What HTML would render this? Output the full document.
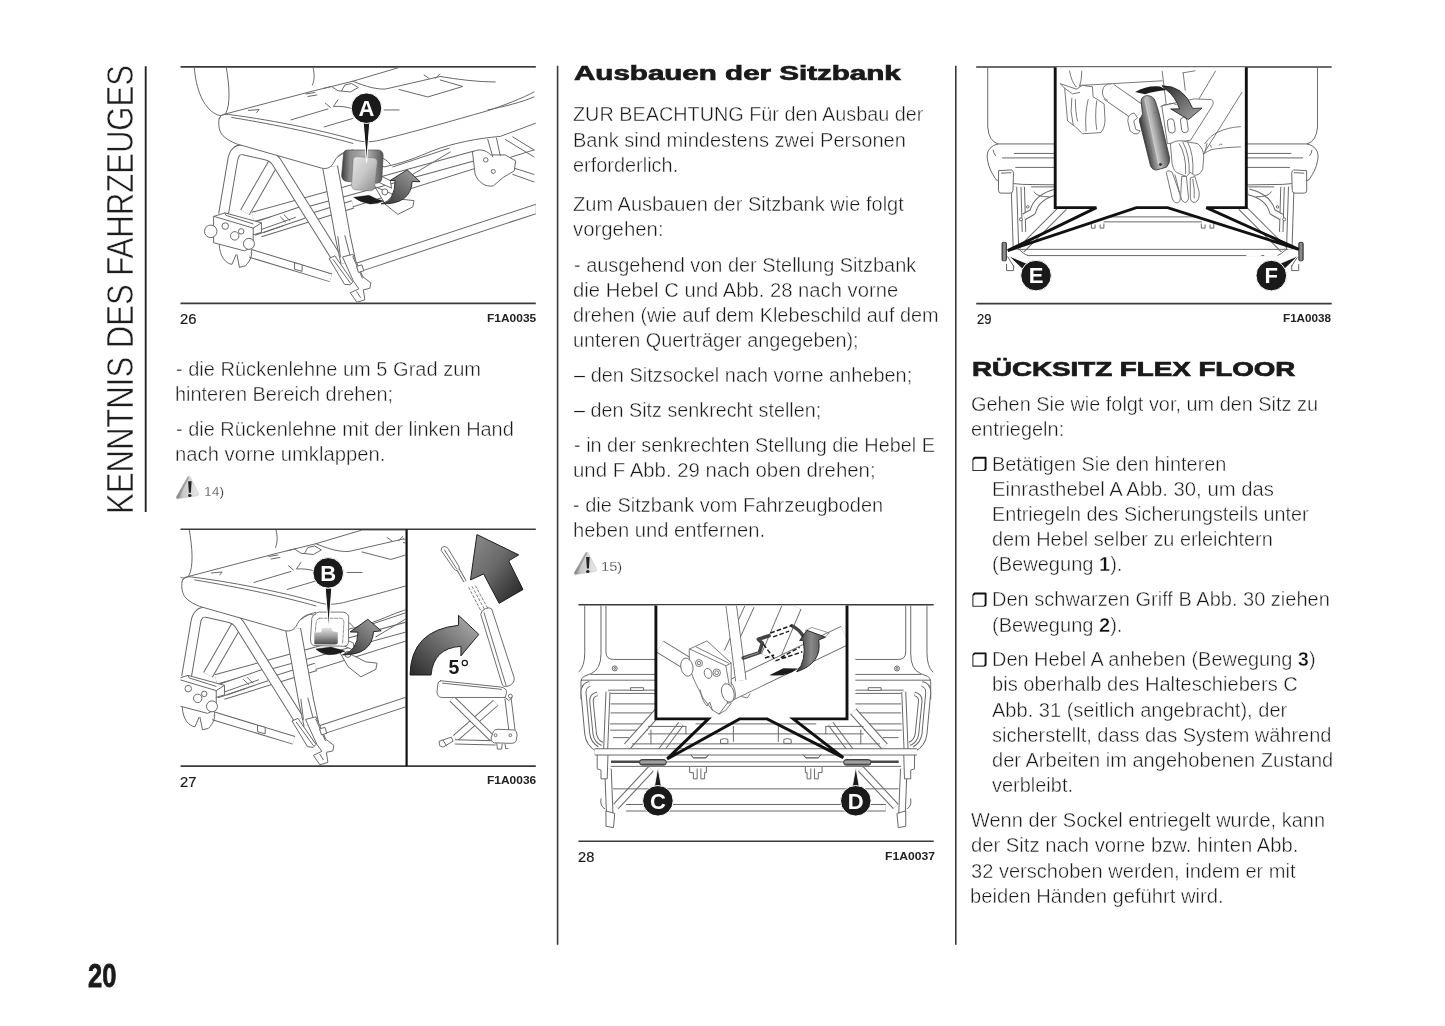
<!DOCTYPE html>
<html lang="de"><head><meta charset="utf-8"><title>Kenntnis des Fahrzeuges</title>
<style>
html,body{margin:0;padding:0;background:#fff;}
body{width:1445px;height:1026px;overflow:hidden;font-family:"Liberation Sans",sans-serif;}
#pg{will-change:transform;position:relative;width:1445px;height:1026px;background:#fff;overflow:hidden;}
#pg svg{position:absolute;left:0;top:0;}
.t{position:absolute;white-space:nowrap;line-height:1;transform-origin:0 50%;font-family:"Liberation Sans",sans-serif;}
.t b{font-weight:bold;color:#111;}
.vt{position:absolute;white-space:nowrap;line-height:1;font-family:"Liberation Sans",sans-serif;}
#side{position:absolute;left:133.3px;top:514.2px;width:0;height:0;transform-origin:0 0;transform:rotate(-90deg);}
.t.b{font-size:20.0px;color:#1a1a1a;-webkit-text-stroke:0.42px #fff;}
.t.h{font-size:20.0px;font-weight:bold;color:#1a1a1a;-webkit-text-stroke:0.7px #1a1a1a;}
.t.s{font-size:13.6px;color:#222;-webkit-text-stroke:0.3px #fff;}
.t.n{font-size:14.5px;color:#1a1a1a;-webkit-text-stroke:0.2px #1a1a1a;}
.t.c{font-size:11.2px;font-weight:bold;color:#222;}
.t.v{font-size:37.0px;color:#1e1e1e;-webkit-text-stroke:0.55px #fff;}
.t.p{font-size:34.0px;font-weight:bold;color:#1a1a1a;-webkit-text-stroke:0.8px #1a1a1a;}
</style></head>
<body>
<div id="pg">
<svg width="1445" height="1026" viewBox="0 0 1445 1026">
<g stroke="#3a3a3a" stroke-width="1.6" fill="none">
<line x1="557.6" y1="65.8" x2="557.6" y2="944.8"/>
<line x1="955.8" y1="65.8" x2="955.8" y2="944.8"/>
<line x1="145.7" y1="66.3" x2="145.7" y2="511.9" stroke="#262626" stroke-width="1.9"/>
<line x1="180.5" y1="66.9" x2="535.8" y2="66.9"/>
<line x1="180.5" y1="303.4" x2="535.8" y2="303.4"/>
<line x1="180.5" y1="529.2" x2="535.8" y2="529.2"/>
<line x1="180.5" y1="766.1" x2="535.8" y2="766.1"/>
<line x1="578.4" y1="604.8" x2="933.7" y2="604.8"/>
<line x1="578.4" y1="841.3" x2="933.7" y2="841.3"/>
<line x1="976.2" y1="67" x2="1331.7" y2="67"/>
<line x1="976.2" y1="303.6" x2="1331.7" y2="303.6"/>
</g>
</svg>
<svg width="1445" height="1026" viewBox="0 0 1445 1026">
<defs>
<linearGradient id="gH1" x1="0" y1="0" x2="1" y2="0"><stop offset="0" stop-color="#3c3c3c"/><stop offset="0.2" stop-color="#8c8c8c"/><stop offset="0.6" stop-color="#b4b4b4"/><stop offset="1" stop-color="#555"/></linearGradient>
  <linearGradient id="gH2" x1="0" y1="0" x2="1" y2="1"><stop offset="0" stop-color="#e6e6e6"/><stop offset="0.5" stop-color="#c6c6c6"/><stop offset="1" stop-color="#8a8a8a"/></linearGradient>
  <linearGradient id="gAr" x1="0" y1="1" x2="1" y2="0"><stop offset="0" stop-color="#333"/><stop offset="0.55" stop-color="#737373"/><stop offset="1" stop-color="#a6a6a6"/></linearGradient>
  <clipPath id="c26"><rect x="180.5" y="67.6" width="355.3" height="235"/></clipPath>
  </defs>
<g clip-path="url(#c26)">
<g transform="translate(178,57) scale(0.24980)">
<path d="M65,40 C72,130 100,200 150,228 C168,237 182,236 190,228 C212,190 205,110 193,40" fill="none" stroke="#686868" stroke-width="4.00" stroke-linecap="round" stroke-linejoin="round" />
<path d="M540,40 C548,70 546,95 538,112" fill="none" stroke="#686868" stroke-width="4.00" stroke-linecap="round" stroke-linejoin="round" />
<path d="M300,640 L1190,395" fill="none" stroke="#686868" stroke-width="42.00" stroke-linecap="butt" stroke-linejoin="round"/><path d="M300,640 L1190,395" fill="none" stroke="#fff" stroke-width="34.00" stroke-linecap="butt" stroke-linejoin="round"/>
<path d="M330,705 L700,590" fill="none" stroke="#686868" stroke-width="34.00" stroke-linecap="butt" stroke-linejoin="round"/><path d="M330,705 L700,590" fill="none" stroke="#fff" stroke-width="26.00" stroke-linecap="butt" stroke-linejoin="round"/>
<path d="M700,600 L1425,372" fill="none" stroke="#686868" stroke-width="4.00" stroke-linecap="round" stroke-linejoin="round" />
<path d="M1330,440 L1425,470 M1340,470 L1425,500" fill="none" stroke="#686868" stroke-width="4.00" stroke-linecap="round" stroke-linejoin="round" />
<path d="M722,842 L1440,606" fill="none" stroke="#686868" stroke-width="40.00" stroke-linecap="butt" stroke-linejoin="round"/><path d="M722,842 L1440,606" fill="none" stroke="#fff" stroke-width="32.00" stroke-linecap="butt" stroke-linejoin="round"/>
<path d="M290,786 L612,884" fill="none" stroke="#686868" stroke-width="36.00" stroke-linecap="butt" stroke-linejoin="round"/><path d="M290,786 L612,884" fill="none" stroke="#fff" stroke-width="28.00" stroke-linecap="butt" stroke-linejoin="round"/>
<path d="M468,824 L497,832 L497,858 L468,850 Z" fill="#fff" stroke="#686868" stroke-width="4.00" stroke-linecap="round" stroke-linejoin="round" />
<path d="M300,690 L500,622" fill="none" stroke="#686868" stroke-width="54.00" stroke-linecap="butt" stroke-linejoin="round"/><path d="M300,690 L500,622" fill="none" stroke="#fff" stroke-width="46.00" stroke-linecap="butt" stroke-linejoin="round"/>
<path d="M335,690 L470,642 M345,702 L420,676 M410,640 L430,660 M425,632 L448,655" fill="none" stroke="#686868" stroke-width="4.00" stroke-linecap="round" stroke-linejoin="round" />
<path d="M385,418 L268,622" fill="none" stroke="#686868" stroke-width="44.00" stroke-linecap="butt" stroke-linejoin="round"/><path d="M385,418 L268,622" fill="none" stroke="#fff" stroke-width="36.00" stroke-linecap="butt" stroke-linejoin="round"/>
<path d="M182,630 L219,412 Q226,366 264,372 L352,392 Q380,398 394,420 L632,800" fill="none" stroke="#686868" stroke-width="43.00" stroke-linecap="butt" stroke-linejoin="round"/><path d="M182,630 L219,412 Q226,366 264,372 L352,392 Q380,398 394,420 L632,800" fill="none" stroke="#fff" stroke-width="35.00" stroke-linecap="butt" stroke-linejoin="round"/>
<path d="M609,440 L660,720 L682,822" fill="none" stroke="#686868" stroke-width="64.00" stroke-linecap="butt" stroke-linejoin="round"/><path d="M609,440 L660,720 L682,822" fill="none" stroke="#fff" stroke-width="56.00" stroke-linecap="butt" stroke-linejoin="round"/>
<path d="M640,720 L650,800 M668,715 L690,800" fill="none" stroke="#686868" stroke-width="4.00" stroke-linecap="round" stroke-linejoin="round" />
<path d="M144,638 L188,624 L334,664 L334,702 L301,712 L301,760 L266,776 L144,744 Z" fill="#fff" stroke="#686868" stroke-width="4.00" stroke-linecap="round" stroke-linejoin="round" />
<path d="M144,638 L301,685 L301,712 M301,685 L334,664 M188,624 L192,634 L300,668" fill="none" stroke="#686868" stroke-width="4.00" stroke-linecap="round" stroke-linejoin="round" />
<circle cx="131" cy="698" r="25" fill="#fff" stroke="#686868" stroke-width="4.00"/>
<circle cx="189" cy="677" r="13" fill="#fff" stroke="#686868" stroke-width="4.00"/>
<circle cx="227" cy="716" r="17" fill="#fff" stroke="#686868" stroke-width="4.00"/>
<circle cx="253" cy="698" r="11" fill="#fff" stroke="#686868" stroke-width="4.00"/>
<circle cx="284" cy="748" r="22" fill="#fff" stroke="#686868" stroke-width="4.00"/>
<path d="M165,752 C168,800 190,826 216,830 L232,792 M236,792 L246,842 L270,836 C290,815 298,795 294,772" fill="none" stroke="#686868" stroke-width="4.00" stroke-linecap="round" stroke-linejoin="round" />
<path d="M606,806 L628,796 L700,900 L690,912 L668,910 Z" fill="#fff" stroke="#686868" stroke-width="4.00" stroke-linecap="round" stroke-linejoin="round" />
<path d="M622,812 L690,905" fill="none" stroke="#686868" stroke-width="4.00" stroke-linecap="round" stroke-linejoin="round" />
<path d="M660,800 L700,790 L740,880 L772,904 L768,926 L742,932 L748,972 L716,982 L690,944 L724,928 L704,900 Z" fill="#fff" stroke="#686868" stroke-width="4.00" stroke-linecap="round" stroke-linejoin="round" />
<path d="M700,800 L738,885 M716,940 L730,962" fill="none" stroke="#686868" stroke-width="4.00" stroke-linecap="round" stroke-linejoin="round" />
<path d="M716,838 L736,832 L744,856 L724,862 Z" fill="#fff" stroke="#686868" stroke-width="4.00" stroke-linecap="round" stroke-linejoin="round" />
<path d="M860,440 L1085,365 M940,470 L1090,380" fill="none" stroke="#686868" stroke-width="4.00" stroke-linecap="round" stroke-linejoin="round" />
<path d="M1180,380 C1200,366 1232,370 1252,392 L1310,392 L1352,416 L1346,456 L1302,482 L1262,516 C1230,522 1200,500 1190,470 Z" fill="#fff" stroke="#686868" stroke-width="4.00" stroke-linecap="round" stroke-linejoin="round" />
<path d="M1240,330 L1260,400 M1275,325 L1290,395 M1310,330 L1425,400 M1340,320 L1425,372" fill="none" stroke="#686868" stroke-width="4.00" stroke-linecap="round" stroke-linejoin="round" />
<circle cx="1232" cy="412" r="9" fill="#fff" stroke="#686868" stroke-width="4.00"/>
<circle cx="1262" cy="458" r="8" fill="#fff" stroke="#686868" stroke-width="4.00"/>
<path d="M790,520 L850,545 L900,570 L945,575 L940,600 L880,630 L830,590 Z" fill="#fff" stroke="#686868" stroke-width="4.00" stroke-linecap="round" stroke-linejoin="round" />
<path d="M800,470 L850,495 L855,525 L800,500 Z" fill="#fff" stroke="#686868" stroke-width="4.00" stroke-linecap="round" stroke-linejoin="round" />
<circle cx="828" cy="540" r="12" fill="#fff" stroke="#686868" stroke-width="4.00"/>
<path d="M190,228 L545,135 L700,97 L885,42 L1440,42 L1440,262 L1290,318 C1200,325 1100,345 1020,375 C960,400 900,425 825,440 L678,378 C650,385 635,400 625,420 C615,440 600,450 575,445 L235,348 C215,340 195,330 180,315 C165,300 160,270 165,246 C170,232 182,229 190,228 Z" fill="#fff" stroke="#686868" stroke-width="4.00" stroke-linecap="round" stroke-linejoin="round" />
<path d="M165,246 C170,232 185,228 202,230 C400,255 600,300 720,335 C760,345 800,336 840,325 C960,295 1100,255 1240,215 C1300,195 1380,165 1425,140" fill="none" stroke="#686868" stroke-width="4.00" stroke-linecap="round" stroke-linejoin="round" />
<path d="M215,242 C400,272 580,312 700,346" fill="none" stroke="#686868" stroke-width="4.00" stroke-linecap="round" stroke-linejoin="round" />
<path d="M700,97 C760,122 800,130 832,128 L1050,78 M1050,78 C1120,90 1200,100 1270,100 M1240,212 C1300,200 1380,180 1425,160" fill="none" stroke="#686868" stroke-width="4.00" stroke-linecap="round" stroke-linejoin="round" />
<path d="M885,130 L1000,160 L1140,118 L1050,92" fill="none" stroke="#686868" stroke-width="4.00" stroke-linecap="round" stroke-linejoin="round" />
<path d="M985,72 L1005,86 M1030,86 L1048,68" fill="none" stroke="#686868" stroke-width="4.00" stroke-linecap="round" stroke-linejoin="round" />
<path d="M585,125 L615,118 L640,135 L690,140 L722,122 L695,106 L668,112 L655,135" fill="none" stroke="#686868" stroke-width="4.00" stroke-linecap="round" stroke-linejoin="round" />
<path d="M452,252 L600,208 M585,280 L700,246 M825,212 L885,212" fill="none" stroke="#686868" stroke-width="4.00" stroke-linecap="round" stroke-linejoin="round" />
<path d="M590,185 L610,202 M640,172 L622,198 C650,196 680,200 700,208" fill="none" stroke="#686868" stroke-width="4.00" stroke-linecap="round" stroke-linejoin="round" />
<path d="M512,148 L548,142 M520,158 L556,152 M282,214 L325,210 L315,222" fill="none" stroke="#686868" stroke-width="4.00" stroke-linecap="round" stroke-linejoin="round" />
<path d="M760,390 C790,395 830,400 850,430 M640,400 C660,385 680,376 700,372" fill="none" stroke="#686868" stroke-width="4.00" stroke-linecap="round" stroke-linejoin="round" />
</g>
<g transform="translate(320,140) scale(0.08306)">
<path d="M300,130 Q310,120 340,120 L700,120 Q760,125 760,190 L745,470 Q740,510 690,520 L330,500 Q262,490 260,430 L280,200 Q285,140 300,130 Z" fill="url(#gH1)" stroke="#3c3c3c" stroke-width="7"/>
  <path d="M400,230 Q410,200 450,200 L640,215 Q690,220 690,270 L660,560 Q655,610 600,612 L430,600 Q380,595 380,540 Z" fill="url(#gH2)" stroke="#6e6e6e" stroke-width="6"/>
  <path d="M405,690 L590,665 Q680,715 765,735 Q690,775 600,770 Q480,750 405,690 Z" fill="#1c1c1c" stroke="#111" stroke-width="4"/>
  <path d="M735,768 Q900,740 905,490 L845,487 L1050,360 L1205,502 L1110,500 Q1090,780 735,768 Z" fill="url(#gAr)" stroke="#222" stroke-width="11" stroke-linejoin="miter"/>
  </g>
<path d="M363.2,122 L369.8,122 L366.6,162.5 Z" fill="#1a1a1a" stroke="#fff" stroke-width="1"/>
<circle cx="366.5" cy="108.2" r="15.3" fill="#1a1a1a" stroke="#fff" stroke-width="1"/><text x="366.5" y="116.0" font-family="Liberation Sans, sans-serif" font-weight="bold" font-size="22" fill="#fff" text-anchor="middle">A</text>
</g>
</svg>
<svg width="1445" height="1026" viewBox="0 0 1445 1026">
<defs>
<linearGradient id="gB1" x1="0" y1="0" x2="0" y2="1"><stop offset="0" stop-color="#e4e4e4"/><stop offset="0.45" stop-color="#a8a8a8"/><stop offset="1" stop-color="#4a4a4a"/></linearGradient>
<linearGradient id="gB2" x1="0" y1="1" x2="1" y2="0"><stop offset="0" stop-color="#333"/><stop offset="0.55" stop-color="#737373"/><stop offset="1" stop-color="#a6a6a6"/></linearGradient>
<linearGradient id="gUp" x1="0" y1="0" x2="1" y2="1"><stop offset="0" stop-color="#8c8c8c"/><stop offset="0.45" stop-color="#6a6a6a"/><stop offset="1" stop-color="#1e1e1e"/></linearGradient>
<linearGradient id="gCv" x1="0" y1="1" x2="1" y2="0"><stop offset="0" stop-color="#2a2a2a"/><stop offset="0.5" stop-color="#6e6e6e"/><stop offset="1" stop-color="#b4b4b4"/></linearGradient>
<clipPath id="c27a"><rect x="180.5" y="529.9" width="225" height="235.4"/></clipPath>
<clipPath id="c27b"><rect x="407" y="529.9" width="128.8" height="235.4"/></clipPath>
</defs>
<g clip-path="url(#c27a)">
<g transform="translate(141.02960000000002,519.4996) scale(0.24980)">
<path d="M65,40 C72,130 100,200 150,228 C168,237 182,236 190,228 C212,190 205,110 193,40" fill="none" stroke="#686868" stroke-width="4.00" stroke-linecap="round" stroke-linejoin="round" />
<path d="M540,40 C548,70 546,95 538,112" fill="none" stroke="#686868" stroke-width="4.00" stroke-linecap="round" stroke-linejoin="round" />
<path d="M300,640 L1190,395" fill="none" stroke="#686868" stroke-width="42.00" stroke-linecap="butt" stroke-linejoin="round"/><path d="M300,640 L1190,395" fill="none" stroke="#fff" stroke-width="34.00" stroke-linecap="butt" stroke-linejoin="round"/>
<path d="M330,705 L700,590" fill="none" stroke="#686868" stroke-width="34.00" stroke-linecap="butt" stroke-linejoin="round"/><path d="M330,705 L700,590" fill="none" stroke="#fff" stroke-width="26.00" stroke-linecap="butt" stroke-linejoin="round"/>
<path d="M700,600 L1425,372" fill="none" stroke="#686868" stroke-width="4.00" stroke-linecap="round" stroke-linejoin="round" />
<path d="M1330,440 L1425,470 M1340,470 L1425,500" fill="none" stroke="#686868" stroke-width="4.00" stroke-linecap="round" stroke-linejoin="round" />
<path d="M722,842 L1440,606" fill="none" stroke="#686868" stroke-width="40.00" stroke-linecap="butt" stroke-linejoin="round"/><path d="M722,842 L1440,606" fill="none" stroke="#fff" stroke-width="32.00" stroke-linecap="butt" stroke-linejoin="round"/>
<path d="M290,786 L612,884" fill="none" stroke="#686868" stroke-width="36.00" stroke-linecap="butt" stroke-linejoin="round"/><path d="M290,786 L612,884" fill="none" stroke="#fff" stroke-width="28.00" stroke-linecap="butt" stroke-linejoin="round"/>
<path d="M468,824 L497,832 L497,858 L468,850 Z" fill="#fff" stroke="#686868" stroke-width="4.00" stroke-linecap="round" stroke-linejoin="round" />
<path d="M300,690 L500,622" fill="none" stroke="#686868" stroke-width="54.00" stroke-linecap="butt" stroke-linejoin="round"/><path d="M300,690 L500,622" fill="none" stroke="#fff" stroke-width="46.00" stroke-linecap="butt" stroke-linejoin="round"/>
<path d="M335,690 L470,642 M345,702 L420,676 M410,640 L430,660 M425,632 L448,655" fill="none" stroke="#686868" stroke-width="4.00" stroke-linecap="round" stroke-linejoin="round" />
<path d="M385,418 L268,622" fill="none" stroke="#686868" stroke-width="44.00" stroke-linecap="butt" stroke-linejoin="round"/><path d="M385,418 L268,622" fill="none" stroke="#fff" stroke-width="36.00" stroke-linecap="butt" stroke-linejoin="round"/>
<path d="M182,630 L219,412 Q226,366 264,372 L352,392 Q380,398 394,420 L632,800" fill="none" stroke="#686868" stroke-width="43.00" stroke-linecap="butt" stroke-linejoin="round"/><path d="M182,630 L219,412 Q226,366 264,372 L352,392 Q380,398 394,420 L632,800" fill="none" stroke="#fff" stroke-width="35.00" stroke-linecap="butt" stroke-linejoin="round"/>
<path d="M609,440 L660,720 L682,822" fill="none" stroke="#686868" stroke-width="64.00" stroke-linecap="butt" stroke-linejoin="round"/><path d="M609,440 L660,720 L682,822" fill="none" stroke="#fff" stroke-width="56.00" stroke-linecap="butt" stroke-linejoin="round"/>
<path d="M640,720 L650,800 M668,715 L690,800" fill="none" stroke="#686868" stroke-width="4.00" stroke-linecap="round" stroke-linejoin="round" />
<path d="M144,638 L188,624 L334,664 L334,702 L301,712 L301,760 L266,776 L144,744 Z" fill="#fff" stroke="#686868" stroke-width="4.00" stroke-linecap="round" stroke-linejoin="round" />
<path d="M144,638 L301,685 L301,712 M301,685 L334,664 M188,624 L192,634 L300,668" fill="none" stroke="#686868" stroke-width="4.00" stroke-linecap="round" stroke-linejoin="round" />
<circle cx="131" cy="698" r="25" fill="#fff" stroke="#686868" stroke-width="4.00"/>
<circle cx="189" cy="677" r="13" fill="#fff" stroke="#686868" stroke-width="4.00"/>
<circle cx="227" cy="716" r="17" fill="#fff" stroke="#686868" stroke-width="4.00"/>
<circle cx="253" cy="698" r="11" fill="#fff" stroke="#686868" stroke-width="4.00"/>
<circle cx="284" cy="748" r="22" fill="#fff" stroke="#686868" stroke-width="4.00"/>
<path d="M165,752 C168,800 190,826 216,830 L232,792 M236,792 L246,842 L270,836 C290,815 298,795 294,772" fill="none" stroke="#686868" stroke-width="4.00" stroke-linecap="round" stroke-linejoin="round" />
<path d="M606,806 L628,796 L700,900 L690,912 L668,910 Z" fill="#fff" stroke="#686868" stroke-width="4.00" stroke-linecap="round" stroke-linejoin="round" />
<path d="M622,812 L690,905" fill="none" stroke="#686868" stroke-width="4.00" stroke-linecap="round" stroke-linejoin="round" />
<path d="M660,800 L700,790 L740,880 L772,904 L768,926 L742,932 L748,972 L716,982 L690,944 L724,928 L704,900 Z" fill="#fff" stroke="#686868" stroke-width="4.00" stroke-linecap="round" stroke-linejoin="round" />
<path d="M700,800 L738,885 M716,940 L730,962" fill="none" stroke="#686868" stroke-width="4.00" stroke-linecap="round" stroke-linejoin="round" />
<path d="M716,838 L736,832 L744,856 L724,862 Z" fill="#fff" stroke="#686868" stroke-width="4.00" stroke-linecap="round" stroke-linejoin="round" />
<path d="M860,440 L1085,365 M940,470 L1090,380" fill="none" stroke="#686868" stroke-width="4.00" stroke-linecap="round" stroke-linejoin="round" />
<path d="M1180,380 C1200,366 1232,370 1252,392 L1310,392 L1352,416 L1346,456 L1302,482 L1262,516 C1230,522 1200,500 1190,470 Z" fill="#fff" stroke="#686868" stroke-width="4.00" stroke-linecap="round" stroke-linejoin="round" />
<path d="M1240,330 L1260,400 M1275,325 L1290,395 M1310,330 L1425,400 M1340,320 L1425,372" fill="none" stroke="#686868" stroke-width="4.00" stroke-linecap="round" stroke-linejoin="round" />
<circle cx="1232" cy="412" r="9" fill="#fff" stroke="#686868" stroke-width="4.00"/>
<circle cx="1262" cy="458" r="8" fill="#fff" stroke="#686868" stroke-width="4.00"/>
<path d="M790,520 L850,545 L900,570 L945,575 L940,600 L880,630 L830,590 Z" fill="#fff" stroke="#686868" stroke-width="4.00" stroke-linecap="round" stroke-linejoin="round" />
<path d="M800,470 L850,495 L855,525 L800,500 Z" fill="#fff" stroke="#686868" stroke-width="4.00" stroke-linecap="round" stroke-linejoin="round" />
<circle cx="828" cy="540" r="12" fill="#fff" stroke="#686868" stroke-width="4.00"/>
<path d="M190,228 L545,135 L700,97 L885,42 L1440,42 L1440,262 L1290,318 C1200,325 1100,345 1020,375 C960,400 900,425 825,440 L678,378 C650,385 635,400 625,420 C615,440 600,450 575,445 L235,348 C215,340 195,330 180,315 C165,300 160,270 165,246 C170,232 182,229 190,228 Z" fill="#fff" stroke="#686868" stroke-width="4.00" stroke-linecap="round" stroke-linejoin="round" />
<path d="M165,246 C170,232 185,228 202,230 C400,255 600,300 720,335 C760,345 800,336 840,325 C960,295 1100,255 1240,215 C1300,195 1380,165 1425,140" fill="none" stroke="#686868" stroke-width="4.00" stroke-linecap="round" stroke-linejoin="round" />
<path d="M215,242 C400,272 580,312 700,346" fill="none" stroke="#686868" stroke-width="4.00" stroke-linecap="round" stroke-linejoin="round" />
<path d="M700,97 C760,122 800,130 832,128 L1050,78 M1050,78 C1120,90 1200,100 1270,100 M1240,212 C1300,200 1380,180 1425,160" fill="none" stroke="#686868" stroke-width="4.00" stroke-linecap="round" stroke-linejoin="round" />
<path d="M885,130 L1000,160 L1140,118 L1050,92" fill="none" stroke="#686868" stroke-width="4.00" stroke-linecap="round" stroke-linejoin="round" />
<path d="M985,72 L1005,86 M1030,86 L1048,68" fill="none" stroke="#686868" stroke-width="4.00" stroke-linecap="round" stroke-linejoin="round" />
<path d="M585,125 L615,118 L640,135 L690,140 L722,122 L695,106 L668,112 L655,135" fill="none" stroke="#686868" stroke-width="4.00" stroke-linecap="round" stroke-linejoin="round" />
<path d="M452,252 L600,208 M585,280 L700,246 M825,212 L885,212" fill="none" stroke="#686868" stroke-width="4.00" stroke-linecap="round" stroke-linejoin="round" />
<path d="M590,185 L610,202 M640,172 L622,198 C650,196 680,200 700,208" fill="none" stroke="#686868" stroke-width="4.00" stroke-linecap="round" stroke-linejoin="round" />
<path d="M512,148 L548,142 M520,158 L556,152 M282,214 L325,210 L315,222" fill="none" stroke="#686868" stroke-width="4.00" stroke-linecap="round" stroke-linejoin="round" />
<path d="M760,390 C790,395 830,400 850,430 M640,400 C660,385 680,376 700,372" fill="none" stroke="#686868" stroke-width="4.00" stroke-linecap="round" stroke-linejoin="round" />
</g>
<g transform="translate(290,550) scale(0.13652)">
<path d="M185,470 Q190,455 215,455 L385,455 Q425,458 430,490 L428,680 Q425,705 395,705 L175,700 Q148,690 150,650 L160,500 Q165,475 185,470 Z" fill="#fff" stroke="#686868" stroke-width="6.50" stroke-linecap="round" stroke-linejoin="round" />
<path d="M215,500 L370,500 Q395,502 395,530 L385,690 M215,500 Q195,505 192,530 L185,600" fill="none" stroke="#686868" stroke-width="5.20" stroke-linecap="round" stroke-linejoin="round" stroke-dasharray="26 10"/>
<path d="M178,690 L178,605 L228,602 L236,572 L300,570 L312,596 L350,602 L350,682 Q345,692 330,692 Z" fill="url(#gB1)"/>
<path d="M190,725 L300,710 L400,740 Q340,772 280,767 Q220,757 190,725 Z" fill="#1c1c1c" stroke="#111" stroke-width="3"/>
<path d="M385,768 Q495,740 498,602 L440,600 L570,508 L668,592 L612,598 Q600,770 385,768 Z" fill="url(#gB2)" stroke="#222" stroke-width="7" stroke-linejoin="miter"/>
</g>
<path d="M325.2,588 L331.8,588 L328.6,628 Z" fill="#1a1a1a" stroke="#fff" stroke-width="1"/>
<circle cx="328.2" cy="572.9" r="15.3" fill="#1a1a1a" stroke="#fff" stroke-width="1"/><text x="328.2" y="580.6999999999999" font-family="Liberation Sans, sans-serif" font-weight="bold" font-size="22" fill="#fff" text-anchor="middle">B</text>
</g>
<line x1="406.6" y1="529.2" x2="406.6" y2="766" stroke="#111" stroke-width="2.2"/>
<g clip-path="url(#c27b)">
<g transform="translate(400,525) scale(0.23889)">
<path d="M452,725 L470,870" fill="none" stroke="#686868" stroke-width="30.00" stroke-linecap="butt" stroke-linejoin="round"/><path d="M452,725 L470,870" fill="none" stroke="#fff" stroke-width="22.00" stroke-linecap="butt" stroke-linejoin="round"/>
<path d="M400,745 L232,892" fill="none" stroke="#686868" stroke-width="32.00" stroke-linecap="butt" stroke-linejoin="round"/><path d="M400,745 L232,892" fill="none" stroke="#fff" stroke-width="24.00" stroke-linecap="butt" stroke-linejoin="round"/>
<path d="M218,728 L385,892" fill="none" stroke="#686868" stroke-width="30.00" stroke-linecap="butt" stroke-linejoin="round"/><path d="M218,728 L385,892" fill="none" stroke="#fff" stroke-width="22.00" stroke-linecap="butt" stroke-linejoin="round"/>
<path d="M230,908 L400,912" fill="none" stroke="#686868" stroke-width="22.00" stroke-linecap="butt" stroke-linejoin="round"/><path d="M230,908 L400,912" fill="none" stroke="#fff" stroke-width="14.00" stroke-linecap="butt" stroke-linejoin="round"/>
<path d="M392,862 Q395,855 410,855 L478,858 Q492,862 490,880 L486,905 Q480,915 465,914 L395,912 Q380,908 382,890 Z" fill="#fff" stroke="#686868" stroke-width="4.00" stroke-linecap="round" stroke-linejoin="round" />
<circle cx="400" cy="880" r="6" fill="#fff" stroke="#686868" stroke-width="4.00"/>
<circle cx="462" cy="880" r="6" fill="#fff" stroke="#686868" stroke-width="4.00"/>
<path d="M405,915 L408,938 L425,938 L428,918 M440,918 L442,936 L452,936" fill="none" stroke="#686868" stroke-width="4.00" stroke-linecap="round" stroke-linejoin="round" />
<path d="M165,905 L215,888 L222,905 L180,930 L168,925 Z M180,900 L195,925" fill="none" stroke="#686868" stroke-width="4.00" stroke-linecap="round" stroke-linejoin="round" />
<path d="M170,652 L420,678 Q447,682 446,702 L440,722 L175,722 Q155,720 155,700 L158,668 Q160,652 170,652 Z" fill="#fff" stroke="#686868" stroke-width="4.00" stroke-linecap="round" stroke-linejoin="round" />
<path d="M178,662 L425,688" fill="none" stroke="#686868" stroke-width="4.00" stroke-linecap="round" stroke-linejoin="round" />
<circle cx="462" cy="716" r="8" fill="#fff" stroke="#686868" stroke-width="4.00"/>
<path d="M440,722 L455,735 L470,722" fill="none" stroke="#686868" stroke-width="4.00" stroke-linecap="round" stroke-linejoin="round" />
<path d="M338,372 Q340,358 358,350 Q375,342 384,352 L478,640 Q480,660 462,670 Q440,682 430,672 Z" fill="#fff" stroke="#686868" stroke-width="4.00" stroke-linecap="round" stroke-linejoin="round" />
<path d="M352,368 L444,672" fill="none" stroke="#686868" stroke-width="4.00" stroke-linecap="round" stroke-linejoin="round" />
<path d="M288,262 L338,358 M302,258 L352,350 M316,255 L366,346" fill="none" stroke="#686868" stroke-width="3.60" stroke-linecap="round" stroke-linejoin="round" stroke-dasharray="10 9"/>
<path d="M172,104 Q172,90 186,90 Q196,90 202,100 L248,176 Q250,186 240,190 Q232,192 226,184 Z" fill="#fff" stroke="#686868" stroke-width="4.00" stroke-linecap="round" stroke-linejoin="round" />
<path d="M186,104 L236,182" fill="none" stroke="#686868" stroke-width="4.00" stroke-linecap="round" stroke-linejoin="round" />
<path d="M243,186 L272,236" fill="none" stroke="#686868" stroke-width="15.00" stroke-linecap="butt" stroke-linejoin="round"/><path d="M243,186 L272,236" fill="none" stroke="#fff" stroke-width="7.00" stroke-linecap="butt" stroke-linejoin="round"/>
<path d="M322,40 L497,125 L455,150 L515,270 L415,328 L350,205 L295,230 Z" fill="url(#gUp)" stroke="#1a1a1a" stroke-width="4" stroke-linejoin="miter"/>
<path d="M42,628 Q45,440 245,420 L245,378 L330,458 L255,548 L255,508 Q140,515 130,628 Z" fill="url(#gCv)" stroke="#1a1a1a" stroke-width="4" stroke-linejoin="miter"/>
</g>
<text x="448.6" y="674.4" font-family="Liberation Sans, sans-serif" font-weight="bold" font-size="19.5" fill="#1a1a1a">5</text>
<circle cx="464.8" cy="663" r="2.6" fill="none" stroke="#1a1a1a" stroke-width="1.2"/>
</g>
</svg>
<svg width="1445" height="1026" viewBox="0 0 1445 1026">
<defs>
<linearGradient id="gC1" x1="0" y1="0" x2="1" y2="0"><stop offset="0" stop-color="#2e2e2e"/><stop offset="0.5" stop-color="#8a8a8a"/><stop offset="1" stop-color="#4a4a4a"/></linearGradient>
<linearGradient id="gLv" x1="0" y1="0" x2="0" y2="1"><stop offset="0" stop-color="#666"/><stop offset="0.45" stop-color="#b0b0b0"/><stop offset="1" stop-color="#4a4a4a"/></linearGradient>
<clipPath id="c28"><rect x="578.4" y="605.4" width="355.3" height="235"/></clipPath>
<clipPath id="c28b"><rect x="656.9" y="605.4" width="189.4" height="113.5"/></clipPath>
</defs>
<g clip-path="url(#c28)">
<g transform="translate(576,594) scale(0.24980)">
<path d="M35,45 L35,235 Q35,290 12,312" fill="none" stroke="#686868" stroke-width="4.00" stroke-linecap="round" stroke-linejoin="round" />
<path d="M100,45 L100,240 Q100,300 62,318 L32,330 Q20,336 20,352 L20,420" fill="none" stroke="#686868" stroke-width="4.00" stroke-linecap="round" stroke-linejoin="round" />
<path d="M120,45 L120,232 Q120,262 150,262 L320,262" fill="none" stroke="#686868" stroke-width="4.00" stroke-linecap="round" stroke-linejoin="round" />
<circle cx="155" cy="298" r="10" fill="#fff" stroke="#686868" stroke-width="4.00"/>
<circle cx="155" cy="298" r="4" fill="#fff" stroke="#686868" stroke-width="4.00"/>
<path d="M20,345 L320,345 M60,322 L320,322" fill="none" stroke="#686868" stroke-width="4.00" stroke-linecap="round" stroke-linejoin="round" />
<path d="M55,360 Q30,365 30,395 L45,560 Q50,600 85,620" fill="none" stroke="#686868" stroke-width="24.00" stroke-linecap="butt" stroke-linejoin="round"/><path d="M55,360 Q30,365 30,395 L45,560 Q50,600 85,620" fill="none" stroke="#fff" stroke-width="16.00" stroke-linecap="butt" stroke-linejoin="round"/>
<path d="M85,400 Q60,405 62,430 L75,560 Q80,590 105,600" fill="none" stroke="#686868" stroke-width="18.00" stroke-linecap="butt" stroke-linejoin="round"/><path d="M85,400 Q60,405 62,430 L75,560 Q80,590 105,600" fill="none" stroke="#fff" stroke-width="10.00" stroke-linecap="butt" stroke-linejoin="round"/>
<path d="M128,392 L118,640" fill="none" stroke="#686868" stroke-width="20.00" stroke-linecap="butt" stroke-linejoin="round"/><path d="M128,392 L118,640" fill="none" stroke="#fff" stroke-width="12.00" stroke-linecap="butt" stroke-linejoin="round"/>
<path d="M130,385 L320,385 M140,398 L320,398" fill="none" stroke="#686868" stroke-width="4.00" stroke-linecap="round" stroke-linejoin="round" />
<path d="M220,375 L270,375 L270,386 L220,386 Z" fill="#fff" stroke="#686868" stroke-width="4.00" stroke-linecap="round" stroke-linejoin="round" />
<path d="M140,440 L320,440 M140,476 L320,476 M138,520 L300,520 M138,545 L285,545 M150,575 L210,575" fill="none" stroke="#686868" stroke-width="4.00" stroke-linecap="round" stroke-linejoin="round" />
<path d="M330,470 L205,610" fill="none" stroke="#686868" stroke-width="34.00" stroke-linecap="butt" stroke-linejoin="round"/><path d="M330,470 L205,610" fill="none" stroke="#fff" stroke-width="26.00" stroke-linecap="butt" stroke-linejoin="round"/>
<path d="M420,520 L330,640" fill="none" stroke="#686868" stroke-width="26.00" stroke-linecap="butt" stroke-linejoin="round"/><path d="M420,520 L330,640" fill="none" stroke="#fff" stroke-width="18.00" stroke-linecap="butt" stroke-linejoin="round"/>
<path d="M290,530 L440,530 M440,530 L440,560 M300,545 L300,600" fill="none" stroke="#686868" stroke-width="4.00" stroke-linecap="round" stroke-linejoin="round" />
<path d="M630,530 L630,590" fill="none" stroke="#686868" stroke-width="4.00" stroke-linecap="round" stroke-linejoin="round" />
<path d="M460,644 L470,656 L520,656 L530,644" fill="none" stroke="#686868" stroke-width="4.00" stroke-linecap="round" stroke-linejoin="round" />
<path d="M580,582 Q595,575 608,582 L608,598 L580,598 Z" fill="#fff" stroke="#686868" stroke-width="4.00" stroke-linecap="round" stroke-linejoin="round" />
<path d="M455,692 L455,715 L470,715 L470,740 L485,740 L485,700 M500,700 L500,740 L515,740 L515,715 L522,715 L522,692" fill="none" stroke="#686868" stroke-width="4.00" stroke-linecap="round" stroke-linejoin="round" />
<path d="M300,700 L160,850" fill="none" stroke="#686868" stroke-width="30.00" stroke-linecap="butt" stroke-linejoin="round"/><path d="M300,700 L160,850" fill="none" stroke="#fff" stroke-width="22.00" stroke-linecap="butt" stroke-linejoin="round"/>
<path d="M128,700 L135,880" fill="none" stroke="#686868" stroke-width="30.00" stroke-linecap="butt" stroke-linejoin="round"/><path d="M128,700 L135,880" fill="none" stroke="#fff" stroke-width="22.00" stroke-linecap="butt" stroke-linejoin="round"/>
<path d="M120,870 L120,930 L150,935 L155,880 Z" fill="#fff" stroke="#686868" stroke-width="4.00" stroke-linecap="round" stroke-linejoin="round" />
<path d="M85,640 L85,700 L100,705 L100,740 L125,740 L128,640 Z" fill="#fff" stroke="#686868" stroke-width="4.00" stroke-linecap="round" stroke-linejoin="round" />
<path d="M100,820 Q95,850 115,860" fill="none" stroke="#686868" stroke-width="4.00" stroke-linecap="round" stroke-linejoin="round" />
<g transform="translate(1440,0) scale(-1,1)"><path d="M35,45 L35,235 Q35,290 12,312" fill="none" stroke="#686868" stroke-width="4.00" stroke-linecap="round" stroke-linejoin="round" />
<path d="M100,45 L100,240 Q100,300 62,318 L32,330 Q20,336 20,352 L20,420" fill="none" stroke="#686868" stroke-width="4.00" stroke-linecap="round" stroke-linejoin="round" />
<path d="M120,45 L120,232 Q120,262 150,262 L320,262" fill="none" stroke="#686868" stroke-width="4.00" stroke-linecap="round" stroke-linejoin="round" />
<circle cx="155" cy="298" r="10" fill="#fff" stroke="#686868" stroke-width="4.00"/>
<circle cx="155" cy="298" r="4" fill="#fff" stroke="#686868" stroke-width="4.00"/>
<path d="M20,345 L320,345 M60,322 L320,322" fill="none" stroke="#686868" stroke-width="4.00" stroke-linecap="round" stroke-linejoin="round" />
<path d="M55,360 Q30,365 30,395 L45,560 Q50,600 85,620" fill="none" stroke="#686868" stroke-width="24.00" stroke-linecap="butt" stroke-linejoin="round"/><path d="M55,360 Q30,365 30,395 L45,560 Q50,600 85,620" fill="none" stroke="#fff" stroke-width="16.00" stroke-linecap="butt" stroke-linejoin="round"/>
<path d="M85,400 Q60,405 62,430 L75,560 Q80,590 105,600" fill="none" stroke="#686868" stroke-width="18.00" stroke-linecap="butt" stroke-linejoin="round"/><path d="M85,400 Q60,405 62,430 L75,560 Q80,590 105,600" fill="none" stroke="#fff" stroke-width="10.00" stroke-linecap="butt" stroke-linejoin="round"/>
<path d="M128,392 L118,640" fill="none" stroke="#686868" stroke-width="20.00" stroke-linecap="butt" stroke-linejoin="round"/><path d="M128,392 L118,640" fill="none" stroke="#fff" stroke-width="12.00" stroke-linecap="butt" stroke-linejoin="round"/>
<path d="M130,385 L320,385 M140,398 L320,398" fill="none" stroke="#686868" stroke-width="4.00" stroke-linecap="round" stroke-linejoin="round" />
<path d="M220,375 L270,375 L270,386 L220,386 Z" fill="#fff" stroke="#686868" stroke-width="4.00" stroke-linecap="round" stroke-linejoin="round" />
<path d="M140,440 L320,440 M140,476 L320,476 M138,520 L300,520 M138,545 L285,545 M150,575 L210,575" fill="none" stroke="#686868" stroke-width="4.00" stroke-linecap="round" stroke-linejoin="round" />
<path d="M330,470 L205,610" fill="none" stroke="#686868" stroke-width="34.00" stroke-linecap="butt" stroke-linejoin="round"/><path d="M330,470 L205,610" fill="none" stroke="#fff" stroke-width="26.00" stroke-linecap="butt" stroke-linejoin="round"/>
<path d="M420,520 L330,640" fill="none" stroke="#686868" stroke-width="26.00" stroke-linecap="butt" stroke-linejoin="round"/><path d="M420,520 L330,640" fill="none" stroke="#fff" stroke-width="18.00" stroke-linecap="butt" stroke-linejoin="round"/>
<path d="M290,530 L440,530 M440,530 L440,560 M300,545 L300,600" fill="none" stroke="#686868" stroke-width="4.00" stroke-linecap="round" stroke-linejoin="round" />
<path d="M630,530 L630,590" fill="none" stroke="#686868" stroke-width="4.00" stroke-linecap="round" stroke-linejoin="round" />
<path d="M460,644 L470,656 L520,656 L530,644" fill="none" stroke="#686868" stroke-width="4.00" stroke-linecap="round" stroke-linejoin="round" />
<path d="M580,582 Q595,575 608,582 L608,598 L580,598 Z" fill="#fff" stroke="#686868" stroke-width="4.00" stroke-linecap="round" stroke-linejoin="round" />
<path d="M455,692 L455,715 L470,715 L470,740 L485,740 L485,700 M500,700 L500,740 L515,740 L515,715 L522,715 L522,692" fill="none" stroke="#686868" stroke-width="4.00" stroke-linecap="round" stroke-linejoin="round" />
<path d="M300,700 L160,850" fill="none" stroke="#686868" stroke-width="30.00" stroke-linecap="butt" stroke-linejoin="round"/><path d="M300,700 L160,850" fill="none" stroke="#fff" stroke-width="22.00" stroke-linecap="butt" stroke-linejoin="round"/>
<path d="M128,700 L135,880" fill="none" stroke="#686868" stroke-width="30.00" stroke-linecap="butt" stroke-linejoin="round"/><path d="M128,700 L135,880" fill="none" stroke="#fff" stroke-width="22.00" stroke-linecap="butt" stroke-linejoin="round"/>
<path d="M120,870 L120,930 L150,935 L155,880 Z" fill="#fff" stroke="#686868" stroke-width="4.00" stroke-linecap="round" stroke-linejoin="round" />
<path d="M85,640 L85,700 L100,705 L100,740 L125,740 L128,640 Z" fill="#fff" stroke="#686868" stroke-width="4.00" stroke-linecap="round" stroke-linejoin="round" />
<path d="M100,820 Q95,850 115,860" fill="none" stroke="#686868" stroke-width="4.00" stroke-linecap="round" stroke-linejoin="round" />
</g>
<path d="M225,600 L1215,600 M290,560 L1150,560 M480,520 L960,520 M150,780 L1290,780" fill="none" stroke="#686868" stroke-width="4.00" stroke-linecap="round" stroke-linejoin="round" />
<path d="M75,632 L1365,632" fill="none" stroke="#686868" stroke-width="30.00" stroke-linecap="butt" stroke-linejoin="round"/><path d="M75,632 L1365,632" fill="none" stroke="#fff" stroke-width="22.00" stroke-linecap="butt" stroke-linejoin="round"/>
<path d="M460,644 L470,656 L520,656 L530,644 M980,644 L970,656 L920,656 L910,644" fill="none" stroke="#686868" stroke-width="4.00" stroke-linecap="round" stroke-linejoin="round" />
<path d="M140,690 L1300,690 M360,672 L1080,672" fill="none" stroke="#686868" stroke-width="4.00" stroke-linecap="round" stroke-linejoin="round" />
<path d="M200,856 L1240,856" fill="none" stroke="#686868" stroke-width="30.00" stroke-linecap="butt" stroke-linejoin="round"/><path d="M200,856 L1240,856" fill="none" stroke="#fff" stroke-width="22.00" stroke-linecap="butt" stroke-linejoin="round"/>
<path d="M140,672 L260,672 M1180,672 L1292,672" stroke="#4a4a4a" stroke-width="10" fill="none"/>
<rect x="255" y="663" width="106" height="22" rx="9" fill="url(#gLv)" stroke="#333" stroke-width="4"/>
<rect x="1072" y="663" width="108" height="22" rx="9" fill="url(#gLv)" stroke="#333" stroke-width="4"/>
<rect x="320" y="40" width="765" height="460" fill="#fff"/>
</g>
<g clip-path="url(#c28b)">
<g transform="translate(656,604) scale(0.13426)">
<path d="M700,10 L540,360" fill="none" stroke="#686868" stroke-width="73.00" stroke-linecap="butt" stroke-linejoin="round"/><path d="M700,10 L540,360" fill="none" stroke="#fff" stroke-width="60.00" stroke-linecap="butt" stroke-linejoin="round"/>
<path d="M1015,10 L850,400" fill="none" stroke="#686868" stroke-width="148.00" stroke-linecap="butt" stroke-linejoin="round"/><path d="M1015,10 L850,400" fill="none" stroke="#fff" stroke-width="135.00" stroke-linecap="butt" stroke-linejoin="round"/>
<path d="M30,318 L230,440" fill="none" stroke="#686868" stroke-width="103.00" stroke-linecap="butt" stroke-linejoin="round"/><path d="M30,318 L230,440" fill="none" stroke="#fff" stroke-width="90.00" stroke-linecap="butt" stroke-linejoin="round"/>
<path d="M1410,232 L540,650" fill="none" stroke="#686868" stroke-width="153.00" stroke-linecap="butt" stroke-linejoin="round"/><path d="M1410,232 L540,650" fill="none" stroke="#fff" stroke-width="140.00" stroke-linecap="butt" stroke-linejoin="round"/>
<path d="M560,585 Q600,640 590,700 Q570,735 530,740 Q480,700 490,630 Q510,585 560,585 Z" fill="#fff" stroke="#686868" stroke-width="6.50" stroke-linecap="round" stroke-linejoin="round" />
<path d="M560,10 L632,570" fill="none" stroke="#686868" stroke-width="85.00" stroke-linecap="butt" stroke-linejoin="round"/><path d="M560,10 L632,570" fill="none" stroke="#fff" stroke-width="72.00" stroke-linecap="butt" stroke-linejoin="round"/>
<path d="M250,335 L380,275 L560,440 L560,600 L530,740 L470,820 L420,790 L350,700 L290,580 L250,480 Z" fill="#fff" stroke="#686868" stroke-width="6.50" stroke-linecap="round" stroke-linejoin="round" />
<path d="M250,335 L520,460 L560,440 M520,460 L545,600 M300,320 L540,440" fill="none" stroke="#686868" stroke-width="6.50" stroke-linecap="round" stroke-linejoin="round" />
<path d="M330,640 Q340,720 380,760 L400,730 L420,790 M470,820 L520,790 L560,740 M640,690 L680,700 L700,670" fill="none" stroke="#686868" stroke-width="6.50" stroke-linecap="round" stroke-linejoin="round" />
<ellipse cx="230" cy="470" rx="45" ry="68" fill="#fff" stroke="#686868" stroke-width="6.5" transform="rotate(-12 230 470)"/>
<circle cx="320" cy="440" r="26" fill="#fff" stroke="#686868" stroke-width="6.50"/>
<circle cx="320" cy="440" r="13" fill="#fff" stroke="#686868" stroke-width="6.50"/>
<ellipse cx="388" cy="517" rx="28" ry="38" fill="#fff" stroke="#686868" stroke-width="6.5" transform="rotate(-15 388 517)"/>
<circle cx="452" cy="512" r="28" fill="#fff" stroke="#686868" stroke-width="6.50"/>
<circle cx="452" cy="512" r="14" fill="#fff" stroke="#686868" stroke-width="6.50"/>
<ellipse cx="535" cy="662" rx="45" ry="70" fill="#fff" stroke="#686868" stroke-width="6.5" transform="rotate(-18 535 662)"/>
<path d="M650,402 L770,362 L792,292 L762,262 L842,236" fill="none" stroke="#444" stroke-width="27" stroke-linejoin="round" stroke-linecap="round"/>
<path d="M655,400 L765,362" fill="none" stroke="#bbb" stroke-width="5"/>
<path d="M1012,162 Q1070,190 1100,245" fill="none" stroke="#444" stroke-width="26" stroke-linecap="round"/>
<path d="M852,216 L1012,160 M872,245 L992,202 M800,300 L892,422 L1090,356 M812,402 L880,380 M930,400 L1070,322" fill="none" stroke="#1a1a1a" stroke-width="11" stroke-dasharray="34 16"/>
<path d="M844,530 L949,479 L1052,480 Q980,545 844,530 Z" fill="#1c1c1c"/>
<path d="M1048,505 Q1125,420 1096,270 L1070,272 L1124,196 L1262,247 L1212,268 Q1240,440 1048,505 Z" fill="url(#gC1)" stroke="#222" stroke-width="7" stroke-linejoin="miter"/>
<path d="M1110,200 L1160,175 L1290,215 L1262,246" fill="none" stroke="#686868" stroke-width="5"/>
</g>
</g>
<path d="M655.9,604.0 L655.9,718.9 L708.4,718.9 L667.2,758.9 L739.6,718.9 L767.1,718.9 L843.3,757.6 L793.3,718.9 L847.0,718.9 L847.0,604.0" fill="none" stroke="#111" stroke-width="2.9" stroke-linejoin="miter"/>
<path d="M654.3,787.6 L661.5,787.6 L657.9,766.9 Z" fill="#1a1a1a" stroke="#fff" stroke-width="0.8"/>
<path d="M852.2,787.6 L859.4,787.6 L855.8,766.9 Z" fill="#1a1a1a" stroke="#fff" stroke-width="0.8"/>
<circle cx="657.9" cy="800.8" r="15.3" fill="#1a1a1a" stroke="#fff" stroke-width="1"/><text x="657.9" y="808.5999999999999" font-family="Liberation Sans, sans-serif" font-weight="bold" font-size="22" fill="#fff" text-anchor="middle">C</text>
<circle cx="855.8" cy="800.8" r="15.3" fill="#1a1a1a" stroke="#fff" stroke-width="1"/><text x="855.8" y="808.5999999999999" font-family="Liberation Sans, sans-serif" font-weight="bold" font-size="22" fill="#fff" text-anchor="middle">D</text>
</g>
</svg>
<svg width="1445" height="1026" viewBox="0 0 1445 1026">
<defs>
<linearGradient id="gE1" gradientUnits="userSpaceOnUse" x1="600" y1="500" x2="800" y2="460"><stop offset="0.08" stop-color="#2e2e2e"/><stop offset="0.3" stop-color="#7a7a7a"/><stop offset="0.5" stop-color="#bdbdbd"/><stop offset="0.72" stop-color="#7c7c7c"/><stop offset="0.92" stop-color="#383838"/></linearGradient>
<linearGradient id="gE2" x1="0" y1="0" x2="1" y2="1"><stop offset="0" stop-color="#2c2c2c"/><stop offset="0.5" stop-color="#6c6c6c"/><stop offset="1" stop-color="#a8a8a8"/></linearGradient>
<linearGradient id="gE3" x1="0" y1="0" x2="1" y2="0"><stop offset="0" stop-color="#5a5a5a"/><stop offset="0.5" stop-color="#9a9a9a"/><stop offset="1" stop-color="#555"/></linearGradient>
<clipPath id="c29"><rect x="976.4" y="67.2" width="355.3" height="235.6"/></clipPath>
<clipPath id="c29b"><rect x="1056.5" y="67.2" width="189.5" height="140"/></clipPath>
</defs>
<g clip-path="url(#c29)">
<g transform="translate(974,57) scale(0.24980)">
<path d="M55,40 L55,280 Q58,335 95,348" fill="none" stroke="#686868" stroke-width="4.00" stroke-linecap="round" stroke-linejoin="round" />
<path d="M160,520 L168,770" fill="none" stroke="#686868" stroke-width="26.00" stroke-linecap="butt" stroke-linejoin="round"/><path d="M160,520 L168,770" fill="none" stroke="#fff" stroke-width="18.00" stroke-linecap="butt" stroke-linejoin="round"/>
<path d="M195,520 L200,700" fill="none" stroke="#686868" stroke-width="18.00" stroke-linecap="butt" stroke-linejoin="round"/><path d="M195,520 L200,700" fill="none" stroke="#fff" stroke-width="10.00" stroke-linecap="butt" stroke-linejoin="round"/>
<path d="M330,540 Q250,560 235,620 L200,640" fill="none" stroke="#686868" stroke-width="28.00" stroke-linecap="butt" stroke-linejoin="round"/><path d="M330,540 Q250,560 235,620 L200,640" fill="none" stroke="#fff" stroke-width="20.00" stroke-linecap="butt" stroke-linejoin="round"/>
<path d="M360,600 L190,770" fill="none" stroke="#686868" stroke-width="32.00" stroke-linecap="butt" stroke-linejoin="round"/><path d="M360,600 L190,770" fill="none" stroke="#fff" stroke-width="24.00" stroke-linecap="butt" stroke-linejoin="round"/>
<path d="M230,520 L330,520 M240,540 Q250,560 300,560" fill="none" stroke="#686868" stroke-width="4.00" stroke-linecap="round" stroke-linejoin="round" />
<circle cx="188" cy="650" r="6" fill="#fff" stroke="#686868" stroke-width="4.00"/>
<circle cx="215" cy="600" r="5" fill="#fff" stroke="#686868" stroke-width="4.00"/>
<path d="M95,348 L340,348 L340,512 L195,510 Q120,505 89,492 Q60,450 55,417 Q48,385 62,368 Q75,352 95,348 Z" fill="#fff" stroke="#686868" stroke-width="4.00" stroke-linecap="round" stroke-linejoin="round" />
<path d="M161,386 L340,386 M114,404 L340,404 M167,442 L340,442 M77,373 Q78,385 86,395" fill="none" stroke="#686868" stroke-width="4.00" stroke-linecap="round" stroke-linejoin="round" />
<path d="M100,455 L150,452 Q158,455 158,465 L156,535 Q155,545 145,545 L108,545 Q98,545 98,535 Z" fill="#fff" stroke="#686868" stroke-width="4.00" stroke-linecap="round" stroke-linejoin="round" />
<path d="M110,465 L148,463" fill="none" stroke="#686868" stroke-width="4.00" stroke-linecap="round" stroke-linejoin="round" />
<path d="M470,668 L470,685 L485,685 L485,672 M505,672 L505,685 L520,685 L520,668" fill="none" stroke="#686868" stroke-width="4.00" stroke-linecap="round" stroke-linejoin="round" />
<path d="M180,770 Q200,790 215,795 M135,800 L160,840 M130,830 L130,855 L158,855 L158,835" fill="none" stroke="#686868" stroke-width="4.00" stroke-linecap="round" stroke-linejoin="round" />
<g transform="translate(1430,0) scale(-1,1)"><path d="M55,40 L55,280 Q58,335 95,348" fill="none" stroke="#686868" stroke-width="4.00" stroke-linecap="round" stroke-linejoin="round" />
<path d="M160,520 L168,770" fill="none" stroke="#686868" stroke-width="26.00" stroke-linecap="butt" stroke-linejoin="round"/><path d="M160,520 L168,770" fill="none" stroke="#fff" stroke-width="18.00" stroke-linecap="butt" stroke-linejoin="round"/>
<path d="M195,520 L200,700" fill="none" stroke="#686868" stroke-width="18.00" stroke-linecap="butt" stroke-linejoin="round"/><path d="M195,520 L200,700" fill="none" stroke="#fff" stroke-width="10.00" stroke-linecap="butt" stroke-linejoin="round"/>
<path d="M330,540 Q250,560 235,620 L200,640" fill="none" stroke="#686868" stroke-width="28.00" stroke-linecap="butt" stroke-linejoin="round"/><path d="M330,540 Q250,560 235,620 L200,640" fill="none" stroke="#fff" stroke-width="20.00" stroke-linecap="butt" stroke-linejoin="round"/>
<path d="M360,600 L190,770" fill="none" stroke="#686868" stroke-width="32.00" stroke-linecap="butt" stroke-linejoin="round"/><path d="M360,600 L190,770" fill="none" stroke="#fff" stroke-width="24.00" stroke-linecap="butt" stroke-linejoin="round"/>
<path d="M230,520 L330,520 M240,540 Q250,560 300,560" fill="none" stroke="#686868" stroke-width="4.00" stroke-linecap="round" stroke-linejoin="round" />
<circle cx="188" cy="650" r="6" fill="#fff" stroke="#686868" stroke-width="4.00"/>
<circle cx="215" cy="600" r="5" fill="#fff" stroke="#686868" stroke-width="4.00"/>
<path d="M95,348 L340,348 L340,512 L195,510 Q120,505 89,492 Q60,450 55,417 Q48,385 62,368 Q75,352 95,348 Z" fill="#fff" stroke="#686868" stroke-width="4.00" stroke-linecap="round" stroke-linejoin="round" />
<path d="M161,386 L340,386 M114,404 L340,404 M167,442 L340,442 M77,373 Q78,385 86,395" fill="none" stroke="#686868" stroke-width="4.00" stroke-linecap="round" stroke-linejoin="round" />
<path d="M100,455 L150,452 Q158,455 158,465 L156,535 Q155,545 145,545 L108,545 Q98,545 98,535 Z" fill="#fff" stroke="#686868" stroke-width="4.00" stroke-linecap="round" stroke-linejoin="round" />
<path d="M110,465 L148,463" fill="none" stroke="#686868" stroke-width="4.00" stroke-linecap="round" stroke-linejoin="round" />
<path d="M470,668 L470,685 L485,685 L485,672 M505,672 L505,685 L520,685 L520,668" fill="none" stroke="#686868" stroke-width="4.00" stroke-linecap="round" stroke-linejoin="round" />
<path d="M180,770 Q200,790 215,795 M135,800 L160,840 M130,830 L130,855 L158,855 L158,835" fill="none" stroke="#686868" stroke-width="4.00" stroke-linecap="round" stroke-linejoin="round" />
</g>
<path d="M175,770 L1255,770 M215,795 L1215,795 M530,640 L900,640 M520,660 L910,660" fill="none" stroke="#686868" stroke-width="4.00" stroke-linecap="round" stroke-linejoin="round" />
<rect x="112" y="742" width="18" height="74" rx="5" fill="url(#gE3)" stroke="#222" stroke-width="3"/>
<rect x="1300" y="742" width="18" height="74" rx="5" fill="url(#gE3)" stroke="#222" stroke-width="3"/>
<path d="M1090,775 L1215,775 M1090,795 L1215,795" stroke="#fff" stroke-width="5" stroke-dasharray="60 12" fill="none"/>
<rect x="325" y="36" width="765" height="567" fill="#fff"/>
</g>
<g clip-path="url(#c29b)">
<g transform="translate(1054,64) scale(0.14233)">
<path d="M110,50 Q120,120 155,160 M195,50 Q195,110 182,150 M760,50 L790,300 M905,62 L990,48 M908,65 L922,185 M1135,50 L1020,242 M1320,200 L1045,640" fill="none" stroke="#686868" stroke-width="6.20" stroke-linecap="round" stroke-linejoin="round" />
<path d="M200,150 L760,118 M180,150 L230,150 L230,190 L205,190 Z" fill="none" stroke="#686868" stroke-width="6.20" stroke-linecap="round" stroke-linejoin="round" />
<path d="M45,140 L75,170 L95,400 L150,440 L200,490 L330,482 Q362,440 358,380 L352,280 L275,230 L270,160 L200,150 L160,175 Z" fill="#fff" stroke="#686868" stroke-width="6.20" stroke-linecap="round" stroke-linejoin="round" />
<path d="M125,240 Q110,330 135,430 M150,250 Q150,340 165,400 M240,250 Q215,350 225,470 M300,260 Q285,370 300,460 M75,170 L130,210 L180,200" fill="none" stroke="#686868" stroke-width="6.20" stroke-linecap="round" stroke-linejoin="round" />
<path d="M385,195 L600,345" fill="none" stroke="#686868" stroke-width="130.40" stroke-linecap="butt" stroke-linejoin="round"/><path d="M385,195 L600,345" fill="none" stroke="#fff" stroke-width="118.00" stroke-linecap="butt" stroke-linejoin="round"/>
<path d="M400,140 Q350,135 340,190 Q338,240 375,255" fill="#fff" stroke="#686868" stroke-width="6.20" stroke-linecap="round" stroke-linejoin="round" />
<path d="M760,292 L985,245 L1105,250 Q1125,262 1115,290 L960,535 L800,560 Z" fill="#fff" stroke="#686868" stroke-width="6.20" stroke-linecap="round" stroke-linejoin="round" />
<rect x="800" y="385" width="48" height="100" rx="22" fill="#fff" stroke="#686868" stroke-width="6.2" transform="rotate(-8 824 435)"/>
<rect x="893" y="375" width="46" height="108" rx="22" fill="#fff" stroke="#686868" stroke-width="6.2" transform="rotate(-8 916 430)"/>
<path d="M750,300 Q770,280 800,285 M810,280 Q840,270 860,285" fill="none" stroke="#686868" stroke-width="6.20" stroke-linecap="round" stroke-linejoin="round" />
<path d="M560,345 Q520,350 518,400 L535,470 Q560,500 590,490 L605,470 L575,460 L560,400 L585,380 Z" fill="#fff" stroke="#686868" stroke-width="6.20" stroke-linecap="round" stroke-linejoin="round" />
<path d="M1060,560 Q1100,500 1150,480 Q1220,445 1310,440 M1040,640 Q1080,610 1110,600 Q1200,585 1310,582 M1075,560 L1060,620 M1100,570 L1105,585 M1160,570 Q1170,555 1180,565" fill="none" stroke="#686868" stroke-width="6.20" stroke-linecap="round" stroke-linejoin="round" />
<path d="M820,560 Q850,535 900,540 L1010,560 Q1050,590 1052,650 L1045,740 Q1020,790 980,780 L960,760 L930,790 L880,770 Q840,760 830,700 Z" fill="#fff" stroke="#686868" stroke-width="6.20" stroke-linecap="round" stroke-linejoin="round" />
<path d="M880,560 Q930,640 925,770 M940,550 Q985,640 975,770 M905,548 Q955,640 950,765" fill="none" stroke="#686868" stroke-width="6.20" stroke-linecap="round" stroke-linejoin="round" />
<path d="M790,760 Q800,740 830,760 L880,900 Q900,960 870,975 Q840,980 830,940 Z" fill="#fff" stroke="#686868" stroke-width="6.20" stroke-linecap="round" stroke-linejoin="round" />
<path d="M900,790 L930,790 L945,940 Q940,975 915,972 Q890,960 890,930 Z" fill="#fff" stroke="#686868" stroke-width="6.20" stroke-linecap="round" stroke-linejoin="round" />
<path d="M960,800 L990,790 L1020,900 Q1025,960 990,972 Q960,975 958,940 Z" fill="#fff" stroke="#686868" stroke-width="6.20" stroke-linecap="round" stroke-linejoin="round" />
<path d="M850,780 Q870,850 880,900 M975,810 Q990,880 985,940" fill="none" stroke="#686868" stroke-width="6.20" stroke-linecap="round" stroke-linejoin="round" />
<path d="M612,262 Q615,225 655,222 Q700,225 712,262 L735,335 L812,660 Q815,700 790,725 L720,745 Q690,745 678,715 L600,400 Q598,380 612,372 L622,350 Z" fill="url(#gE1)" stroke="#3a3a3a" stroke-width="6"/>
<path d="M640,250 L735,700" stroke="#f2f2f2" stroke-width="10" stroke-linecap="round" opacity="0.45" fill="none"/>
<path d="M622,350 L690,640 M735,335 L700,345" stroke="#666" stroke-width="4" fill="none"/>
<circle cx="748" cy="706" r="10" fill="#333"/>
<path d="M570,196 Q650,150 745,158 L792,182 Q700,190 640,212 Z" fill="#1c1c1c"/>
<path d="M758,153 Q910,150 975,312 L1040,310 L945,390 L820,316 L882,315 Q850,225 790,182 Z" fill="url(#gE2)" stroke="#222" stroke-width="6" stroke-linejoin="miter"/>
</g>
</g>
<path d="M1055.2,66.0 L1055.2,207.6 L1096.4,207.6 L1007.7,250.6 L1136.4,207.6 L1167.6,207.6 L1298.7,249.3 L1206.3,207.6 L1246.3,207.6 L1246.3,66.0" fill="none" stroke="#111" stroke-width="2.9" stroke-linejoin="miter"/>
<path d="M1008.5,255.8 L1027.7,263.8 L1022.7,269.3 Z" fill="#1a1a1a" stroke="#fff" stroke-width="0.8"/>
<path d="M1298.2,255.8 L1279.3,263.8 L1284.3,269.3 Z" fill="#1a1a1a" stroke="#fff" stroke-width="0.8"/>
<circle cx="1036.0" cy="275.6" r="15.3" fill="#1a1a1a" stroke="#fff" stroke-width="1"/><text x="1036.0" y="283.40000000000003" font-family="Liberation Sans, sans-serif" font-weight="bold" font-size="22" fill="#fff" text-anchor="middle">E</text>
<circle cx="1271.3" cy="275.6" r="15.3" fill="#1a1a1a" stroke="#fff" stroke-width="1"/><text x="1271.3" y="283.40000000000003" font-family="Liberation Sans, sans-serif" font-weight="bold" font-size="22" fill="#fff" text-anchor="middle">F</text>
</g>
</svg>
<svg width="1445" height="1026" viewBox="0 0 1445 1026">
<defs>
<linearGradient id="gW" x1="0" y1="0" x2="1" y2="0"><stop offset="0" stop-color="#7a7a7a"/><stop offset="0.3" stop-color="#c9c9c9"/><stop offset="1" stop-color="#e9e9e9"/></linearGradient>
</defs>
<g transform="translate(176,476.2)">
<path d="M11.9,0.4 Q13.4,-0.6 14.4,1.2 L22.6,17.6 Q23,19.2 21.4,19.5 L1.6,22.6 Q-0.4,22.6 0.3,20.8 Z" fill="url(#gW)" stroke="#bdbdbd" stroke-width="0.5"/>
<path d="M0.3,20.8 L11.9,0.4 L13.2,1 L3,21 Z" fill="#8c8c8c" opacity="0.7"/>
<path d="M12.1,5 L15.6,5 L14.9,16.6 L12.9,16.6 Z" fill="#222"/>
<ellipse cx="13.8" cy="19.4" rx="1.7" ry="1.5" fill="#222"/>
</g>
<g transform="translate(574,552)">
<path d="M11.9,0.4 Q13.4,-0.6 14.4,1.2 L22.6,17.6 Q23,19.2 21.4,19.5 L1.6,22.6 Q-0.4,22.6 0.3,20.8 Z" fill="url(#gW)" stroke="#bdbdbd" stroke-width="0.5"/>
<path d="M0.3,20.8 L11.9,0.4 L13.2,1 L3,21 Z" fill="#8c8c8c" opacity="0.7"/>
<path d="M12.1,5 L15.6,5 L14.9,16.6 L12.9,16.6 Z" fill="#222"/>
<ellipse cx="13.8" cy="19.4" rx="1.7" ry="1.5" fill="#222"/>
</g>
<g transform="translate(972.3,456.9)">
<path d="M0.6,2.2 L0.6,13.6 L12,13.6" fill="none" stroke="#333" stroke-width="1.1"/>
<path d="M0.8,2.4 L2.4,0.9 L13.3,0.9 L13.3,12.2 L12,13.6" fill="none" stroke="#111" stroke-width="1.9" stroke-linejoin="round"/>
</g>
<g transform="translate(972.3,592.6)">
<path d="M0.6,2.2 L0.6,13.6 L12,13.6" fill="none" stroke="#333" stroke-width="1.1"/>
<path d="M0.8,2.4 L2.4,0.9 L13.3,0.9 L13.3,12.2 L12,13.6" fill="none" stroke="#111" stroke-width="1.9" stroke-linejoin="round"/>
</g>
<g transform="translate(972.3,652.5)">
<path d="M0.6,2.2 L0.6,13.6 L12,13.6" fill="none" stroke="#333" stroke-width="1.1"/>
<path d="M0.8,2.4 L2.4,0.9 L13.3,0.9 L13.3,12.2 L12,13.6" fill="none" stroke="#111" stroke-width="1.9" stroke-linejoin="round"/>
</g>
</svg>
<span class="t b" style="left:175.94px;top:359px;transform:scaleX(1.0013);">- die Rückenlehne um 5 Grad zum</span>
<span class="t b" style="left:174.62px;top:384px;transform:scaleX(0.9957);">hinteren Bereich drehen;</span>
<span class="t b" style="left:175.94px;top:419px;transform:scaleX(0.9962);">- die Rückenlehne mit der linken Hand</span>
<span class="t b" style="left:174.62px;top:444px;transform:scaleX(1.0119);">nach vorne umklappen.</span>
<span class="t s" style="left:203.99px;top:485px;transform:scaleX(1.0195);">14)</span>
<span class="t n" style="left:180.31px;top:312px;transform:scaleX(1.0246);">26</span>
<span class="t c" style="left:487.10px;top:313px;transform:scaleX(1.0688);">F1A0035</span>
<span class="t n" style="left:180.31px;top:775px;transform:scaleX(1.0223);">27</span>
<span class="t c" style="left:487.10px;top:775px;transform:scaleX(1.0688);">F1A0036</span>
<span class="t h" style="left:574.37px;top:63px;transform:scaleX(1.4777);">Ausbauen der Sitzbank</span>
<span class="t b" style="left:573.47px;top:104px;transform:scaleX(0.9913);">ZUR BEACHTUNG Für den Ausbau der</span>
<span class="t b" style="left:572.57px;top:130px;transform:scaleX(1.0012);">Bank sind mindestens zwei Personen</span>
<span class="t b" style="left:573.47px;top:155px;transform:scaleX(0.9959);">erforderlich.</span>
<span class="t b" style="left:573.47px;top:194px;transform:scaleX(1.0019);">Zum Ausbauen der Sitzbank wie folgt</span>
<span class="t b" style="left:573.47px;top:219px;transform:scaleX(1.0183);">vorgehen:</span>
<span class="t b" style="left:573.89px;top:255px;transform:scaleX(0.9960);">- ausgehend von der Stellung Sitzbank</span>
<span class="t b" style="left:573.47px;top:280px;transform:scaleX(1.0120);">die Hebel C und Abb. 28 nach vorne</span>
<span class="t b" style="left:573.47px;top:305px;transform:scaleX(0.9935);">drehen (wie auf dem Klebeschild auf dem</span>
<span class="t b" style="left:572.57px;top:330px;transform:scaleX(0.9917);">unteren Querträger angegeben);</span>
<span class="t b" style="left:574.37px;top:365px;transform:scaleX(0.9973);">– den Sitzsockel nach vorne anheben;</span>
<span class="t b" style="left:574.37px;top:400px;transform:scaleX(0.9882);">– den Sitz senkrecht stellen;</span>
<span class="t b" style="left:573.89px;top:435px;transform:scaleX(0.9930);">- in der senkrechten Stellung die Hebel E</span>
<span class="t b" style="left:572.57px;top:460px;transform:scaleX(1.0192);">und F Abb. 29 nach oben drehen;</span>
<span class="t b" style="left:572.99px;top:495px;transform:scaleX(1.0000);">- die Sitzbank vom Fahrzeugboden</span>
<span class="t b" style="left:572.57px;top:520px;transform:scaleX(1.0096);">heben und entfernen.</span>
<span class="t s" style="left:601.20px;top:560px;transform:scaleX(1.0776);">15)</span>
<span class="t n" style="left:577.94px;top:850px;transform:scaleX(1.0095);">28</span>
<span class="t c" style="left:884.89px;top:851px;transform:scaleX(1.0862);">F1A0037</span>
<span class="t n" style="left:977.05px;top:312px;transform:scaleX(0.8984);">29</span>
<span class="t c" style="left:1282.94px;top:313px;transform:scaleX(1.0428);">F1A0038</span>
<span class="t h" style="left:971.89px;top:359px;transform:scaleX(1.3860);">RÜCKSITZ FLEX FLOOR</span>
<span class="t b" style="left:970.94px;top:394px;transform:scaleX(0.9940);">Gehen Sie wie folgt vor, um den Sitz zu</span>
<span class="t b" style="left:970.94px;top:419px;transform:scaleX(0.9978);">entriegeln:</span>
<span class="t b" style="left:991.57px;top:454px;transform:scaleX(0.9943);">Betätigen Sie den hinteren</span>
<span class="t b" style="left:991.57px;top:479px;transform:scaleX(1.0141);">Einrasthebel A Abb. 30, um das</span>
<span class="t b" style="left:991.57px;top:504px;transform:scaleX(0.9888);">Entriegeln des Sicherungsteils unter</span>
<span class="t b" style="left:992.47px;top:529px;transform:scaleX(0.9944);">dem Hebel selber zu erleichtern</span>
<span class="t b" style="left:991.57px;top:554px;transform:scaleX(1.0025);">(Bewegung <b>1</b>).</span>
<span class="t b" style="left:991.57px;top:589px;transform:scaleX(1.0006);">Den schwarzen Griff B Abb. 30 ziehen</span>
<span class="t b" style="left:991.57px;top:615px;transform:scaleX(1.0025);">(Bewegung <b>2</b>).</span>
<span class="t b" style="left:991.57px;top:649px;transform:scaleX(0.9966);">Den Hebel A anheben (Bewegung <b>3</b>)</span>
<span class="t b" style="left:991.57px;top:674px;transform:scaleX(1.0039);">bis oberhalb des Halteschiebers C</span>
<span class="t b" style="left:992.47px;top:700px;transform:scaleX(1.0020);">Abb. 31 (seitlich angebracht), der</span>
<span class="t b" style="left:992.47px;top:725px;transform:scaleX(0.9978);">sicherstellt, dass das System während</span>
<span class="t b" style="left:992.47px;top:750px;transform:scaleX(1.0028);">der Arbeiten im angehobenen Zustand</span>
<span class="t b" style="left:992.47px;top:775px;transform:scaleX(0.9981);">verbleibt.</span>
<span class="t b" style="left:970.94px;top:810px;transform:scaleX(0.9992);">Wenn der Sockel entriegelt wurde, kann</span>
<span class="t b" style="left:970.94px;top:835px;transform:scaleX(1.0119);">der Sitz nach vorne bzw. hinten Abb.</span>
<span class="t b" style="left:970.94px;top:861px;transform:scaleX(1.0034);">32 verschoben werden, indem er mit</span>
<span class="t b" style="left:970.04px;top:886px;transform:scaleX(1.0092);">beiden Händen geführt wird.</span>
<span class="t p" style="left:87.79px;top:958px;transform:scaleX(0.7508);">20</span>
<div id="side"><span class="t v" style="left:0;top:-31px;transform:scaleX(0.8400);">KENNTNIS DES FAHRZEUGES</span></div>
</div>
</body></html>
